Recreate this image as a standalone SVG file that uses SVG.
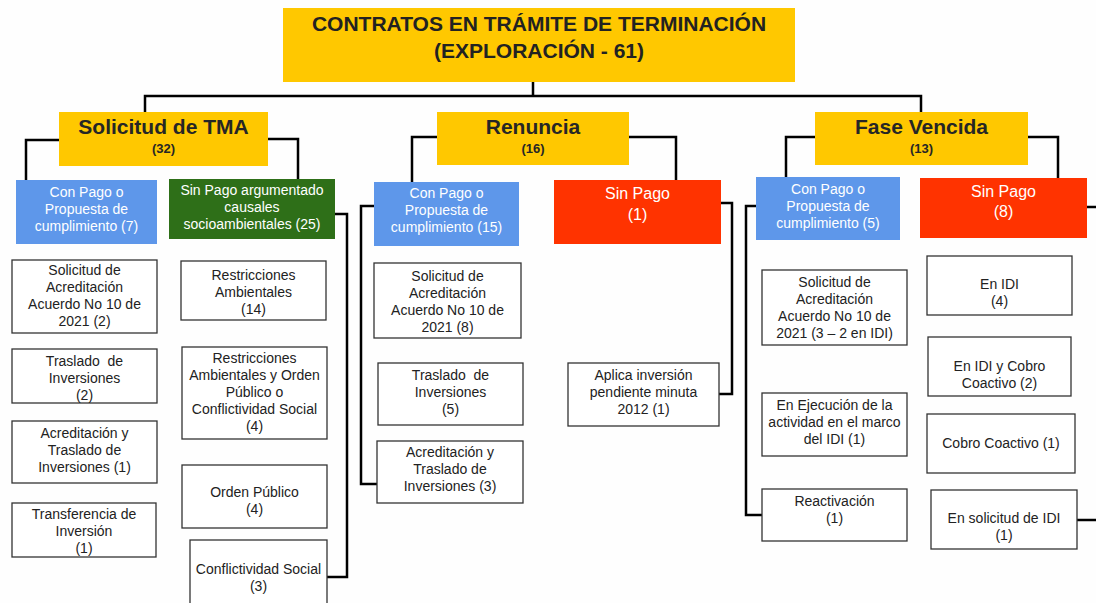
<svg xmlns="http://www.w3.org/2000/svg" width="1096" height="603" viewBox="0 0 1096 603">
<style>
text{font-family:"Liberation Sans",Arial,sans-serif;text-anchor:middle}
.top{fill:#FFC800}
.cat{fill:#FFC800}
.blue{fill:#5E97EA}
.green{fill:#2E6F18}
.red{fill:#FF3300}
.leaf{fill:#FFFFFF;stroke:#333333;stroke-width:1.3}
.ttl{font-size:21px;font-weight:bold;fill:#222222}
.cn{font-size:21px;font-weight:bold;fill:#262626}
.cc{font-size:13px;font-weight:bold;fill:#262626}
.wt{font-size:14px;fill:#FFFFFF}
.wl{font-size:16px;fill:#FFFFFF}
.lt{font-size:14px;fill:#222222}
.con{fill:none;stroke:#000000;stroke-width:2.5;stroke-linejoin:miter}
</style>
<rect width="1096" height="603" fill="#FEFEFE"/>
<g id="connectors">
<path class="con" d="M533,82 V96 M145,112 V96 H921 V112"/>
<path class="con" d="M59,140 H26 V180"/>
<path class="con" d="M268,139 H298 V179"/>
<path class="con" d="M335,214 H347 V577 H327"/>
<path class="con" d="M437,137 H412 V182"/>
<path class="con" d="M629,137 H676 V180"/>
<path class="con" d="M374,206 H361 V484 H377"/>
<path class="con" d="M721,203 H732 V394 H719"/>
<path class="con" d="M815,137 H786 V177"/>
<path class="con" d="M1028,137 H1058 V178"/>
<path class="con" d="M756,206 H746 V515 H762"/>
<path class="con" d="M1087,207 H1100"/>
<path class="con" d="M1077,520 H1100"/>
</g>
<g id="title">
<rect class="top" x="283" y="8" width="512" height="74"/>
<text class="ttl" x="539" y="31">CONTRATOS EN TRÁMITE DE TERMINACIÓN</text>
<text class="ttl" x="539" y="58">(EXPLORACIÓN - 61)</text>
</g>
<g id="solicitud-tma">
<rect class="cat" x="59" y="112" width="209" height="54"/>
<text class="cn" x="163.5" y="134">Solicitud de TMA</text>
<text class="cc" x="163.5" y="153">(32)</text>
</g>
<g id="renuncia">
<rect class="cat" x="437" y="112" width="192" height="53"/>
<text class="cn" x="533" y="134">Renuncia</text>
<text class="cc" x="533" y="153">(16)</text>
</g>
<g id="fase-vencida">
<rect class="cat" x="815" y="112" width="213" height="53"/>
<text class="cn" x="921.5" y="134">Fase Vencida</text>
<text class="cc" x="921.5" y="153">(13)</text>
</g>
<g id="tma-con-pago">
<rect class="blue" x="16" y="180" width="141" height="64"/>
<text class="wt" x="86.5" y="197">Con Pago o</text>
<text class="wt" x="86.5" y="214">Propuesta de</text>
<text class="wt" x="86.5" y="231">cumplimiento (7)</text>
</g>
<g id="tma-sin-pago">
<rect class="green" x="169" y="179" width="166" height="60"/>
<text class="wt" x="252" y="195">Sin Pago argumentado</text>
<text class="wt" x="252" y="212">causales</text>
<text class="wt" x="252" y="229">socioambientales (25)</text>
</g>
<g id="ren-con-pago">
<rect class="blue" x="374" y="182" width="145" height="64"/>
<text class="wt" x="446.5" y="198">Con Pago o</text>
<text class="wt" x="446.5" y="215">Propuesta de</text>
<text class="wt" x="446.5" y="232">cumplimiento (15)</text>
</g>
<g id="ren-sin-pago">
<rect class="red" x="554" y="180" width="167" height="64"/>
<text class="wl" x="637.5" y="199">Sin Pago</text>
<text class="wl" x="637.5" y="220">(1)</text>
</g>
<g id="fv-con-pago">
<rect class="blue" x="756" y="177" width="144" height="63"/>
<text class="wt" x="828" y="194">Con Pago o</text>
<text class="wt" x="828" y="211">Propuesta de</text>
<text class="wt" x="828" y="228">cumplimiento (5)</text>
</g>
<g id="fv-sin-pago">
<rect class="red" x="920" y="178" width="167" height="60"/>
<text class="wl" x="1003.5" y="197">Sin Pago</text>
<text class="wl" x="1003.5" y="217">(8)</text>
</g>
<g id="tma-acreditacion">
<rect class="leaf" x="12" y="260" width="145" height="73"/>
<text class="lt" x="84.5" y="275">Solicitud de</text>
<text class="lt" x="84.5" y="292">Acreditación</text>
<text class="lt" x="84.5" y="309">Acuerdo No 10 de</text>
<text class="lt" x="84.5" y="326">2021 (2)</text>
</g>
<g id="tma-traslado">
<rect class="leaf" x="12" y="349" width="145" height="54"/>
<text class="lt" x="84.5" y="366" xml:space="preserve">Traslado  de</text>
<text class="lt" x="84.5" y="383">Inversiones</text>
<text class="lt" x="84.5" y="400">(2)</text>
</g>
<g id="tma-acred-traslado">
<rect class="leaf" x="12" y="421" width="145" height="62"/>
<text class="lt" x="84.5" y="438">Acreditación y</text>
<text class="lt" x="84.5" y="455">Traslado de</text>
<text class="lt" x="84.5" y="472">Inversiones (1)</text>
</g>
<g id="tma-transferencia">
<rect class="leaf" x="12" y="503" width="144" height="54"/>
<text class="lt" x="84" y="519">Transferencia de</text>
<text class="lt" x="84" y="536">Inversión</text>
<text class="lt" x="84" y="553">(1)</text>
</g>
<g id="tma-restricciones">
<rect class="leaf" x="181" y="261" width="145" height="59"/>
<text class="lt" x="253.5" y="280">Restricciones</text>
<text class="lt" x="253.5" y="297">Ambientales</text>
<text class="lt" x="253.5" y="314">(14)</text>
</g>
<g id="tma-restr-orden">
<rect class="leaf" x="182" y="347" width="145" height="92"/>
<text class="lt" x="254.5" y="363">Restricciones</text>
<text class="lt" x="254.5" y="380">Ambientales y Orden</text>
<text class="lt" x="254.5" y="397">Público o</text>
<text class="lt" x="254.5" y="414">Conflictividad Social</text>
<text class="lt" x="254.5" y="431">(4)</text>
</g>
<g id="tma-orden">
<rect class="leaf" x="182" y="465" width="145" height="63"/>
<text class="lt" x="254.5" y="497">Orden Público</text>
<text class="lt" x="254.5" y="514">(4)</text>
</g>
<g id="tma-conflictividad">
<rect class="leaf" x="190" y="540" width="137" height="72"/>
<text class="lt" x="258.5" y="574">Conflictividad Social</text>
<text class="lt" x="258.5" y="591">(3)</text>
</g>
<g id="ren-acreditacion">
<rect class="leaf" x="374" y="263" width="147" height="75"/>
<text class="lt" x="447.5" y="281">Solicitud de</text>
<text class="lt" x="447.5" y="298">Acreditación</text>
<text class="lt" x="447.5" y="315">Acuerdo No 10 de</text>
<text class="lt" x="447.5" y="332">2021 (8)</text>
</g>
<g id="ren-traslado">
<rect class="leaf" x="378" y="363" width="145" height="62"/>
<text class="lt" x="450.5" y="380" xml:space="preserve">Traslado  de</text>
<text class="lt" x="450.5" y="397">Inversiones</text>
<text class="lt" x="450.5" y="414">(5)</text>
</g>
<g id="ren-acred-traslado">
<rect class="leaf" x="377" y="441" width="146" height="62"/>
<text class="lt" x="450" y="457">Acreditación y</text>
<text class="lt" x="450" y="474">Traslado de</text>
<text class="lt" x="450" y="491">Inversiones (3)</text>
</g>
<g id="ren-aplica">
<rect class="leaf" x="568" y="363" width="151" height="63"/>
<text class="lt" x="643.5" y="380">Aplica inversión</text>
<text class="lt" x="643.5" y="397">pendiente minuta</text>
<text class="lt" x="643.5" y="414">2012 (1)</text>
</g>
<g id="fv-acreditacion">
<rect class="leaf" x="762" y="270" width="145" height="75"/>
<text class="lt" x="834.5" y="287">Solicitud de</text>
<text class="lt" x="834.5" y="304">Acreditación</text>
<text class="lt" x="834.5" y="321">Acuerdo No 10 de</text>
<text class="lt" x="834.5" y="338">2021 (3 – 2 en IDI)</text>
</g>
<g id="fv-ejecucion">
<rect class="leaf" x="762" y="393" width="145" height="63"/>
<text class="lt" x="834.5" y="410">En Ejecución de la</text>
<text class="lt" x="834.5" y="427">actividad en el marco</text>
<text class="lt" x="834.5" y="444">del IDI (1)</text>
</g>
<g id="fv-reactivacion">
<rect class="leaf" x="762" y="489" width="145" height="52"/>
<text class="lt" x="834.5" y="506">Reactivación</text>
<text class="lt" x="834.5" y="523">(1)</text>
</g>
<g id="fv-en-idi">
<rect class="leaf" x="927" y="256" width="145" height="59"/>
<text class="lt" x="999.5" y="289">En IDI</text>
<text class="lt" x="999.5" y="306">(4)</text>
</g>
<g id="fv-idi-cobro">
<rect class="leaf" x="928" y="337" width="143" height="59"/>
<text class="lt" x="999.5" y="371">En IDI y Cobro</text>
<text class="lt" x="999.5" y="388">Coactivo (2)</text>
</g>
<g id="fv-cobro">
<rect class="leaf" x="927" y="414" width="148" height="59"/>
<text class="lt" x="1001" y="448">Cobro Coactivo (1)</text>
</g>
<g id="fv-solicitud-idi">
<rect class="leaf" x="931" y="490" width="146" height="59"/>
<text class="lt" x="1004" y="523">En solicitud de IDI</text>
<text class="lt" x="1004" y="540">(1)</text>
</g>
</svg>
